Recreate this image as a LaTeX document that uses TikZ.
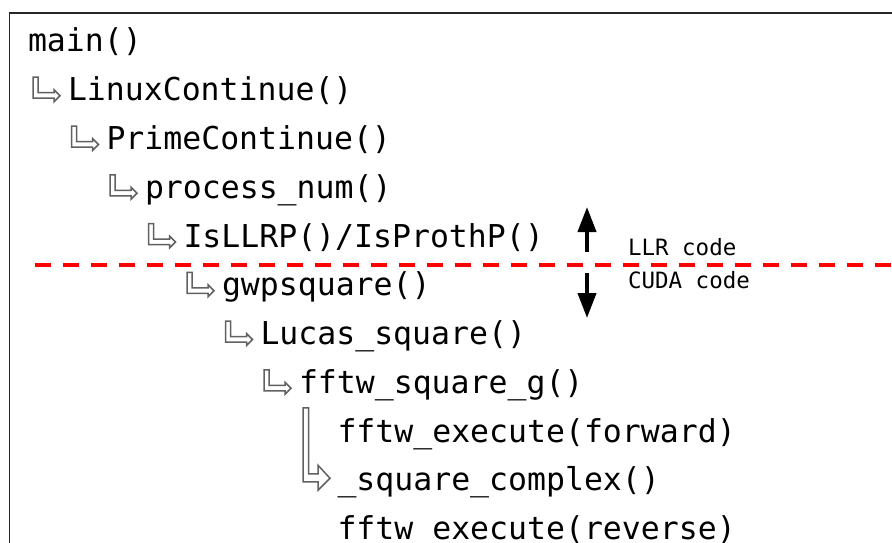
\documentclass[tikz,border=0pt]{standalone}
\usepackage{fontspec}
\newfontfamily\codefont{DejaVu Sans Mono}
\usetikzlibrary{arrows.meta}
\tikzset{
  codeline/.style={anchor=base west, inner sep=0pt, outer sep=0pt, font=\codefont\fontsize{31.5}{36}\selectfont},
  codelabel/.style={anchor=base west, inner sep=0pt, outer sep=0pt, font=\codefont\fontsize{22.5}{26}\selectfont},
  callarrow/.style={draw=black!62, line width=1.5pt, fill=white, line join=miter},
  bigarrow/.style={-{Triangle[length=25pt,width=18pt]}, line width=4pt, black},
  divider/.style={draw=red, line width=4pt, dash pattern=on 16pt off 12pt},
  frameline/.style={draw=black!85, line width=1.4pt}
}
\newcommand{\smallcall}[1]{%
  \draw[callarrow, shift={(#1.base west)}]
    (-35,-23.5) -- (-35,-2.5) -- (-14,-2.5) -- (-14,1) -- (-8,-5) -- (-14,-11)
    -- (-14,-8) -- (-30,-8) -- (-30,-23.5) -- cycle;}
\begin{document}
\begin{tikzpicture}[x=1pt,y=-1pt]
\useasboundingbox (0,0) rectangle (892,543);
\draw[frameline] (9.5,13) rectangle (960,620);

\node[codeline] (n0) at (28,52) {main()};
\node[codeline] (n1) at (68,100.75) {LinuxContinue()};
\node[codeline] (n2) at (106.5,149.5) {PrimeContinue()};
\node[codeline] (n3) at (145,198.25) {process\_num()};
\node[codeline] (n4) at (183.5,247) {IsLLRP()/IsProthP()};
\node[codeline] (n5) at (222,295.75) {gwpsquare()};
\node[codeline] (n6) at (260.5,344.5) {Lucas\_square()};
\node[codeline] (n7) at (299,393.25) {fftw\_square\_g()};
\node[codeline] (n8) at (337.5,442) {fftw\_execute(forward)};
\node[codeline] (n9) at (337.5,490.75) {\_square\_complex()};
\node[codeline] (n10) at (337.5,539.5) {fftw\_execute(reverse)};

\foreach \n in {n1,n2,n3,n4,n5,n6,n7} {\smallcall{\n}}

\draw[callarrow, shift={(n9.base west)}]
  (-34.5,-83) -- (-34.5,-9) -- (-19.5,-9) -- (-19.5,-0.5) -- (-7.5,-12.5)
  -- (-19.5,-25.5) -- (-19.5,-17) -- (-29,-17) -- (-29,-83) -- cycle;

\draw[divider] (35,265) -- (900,265);

\coordinate (upS) at (587,252);
\coordinate (upT) at (587,207);
\coordinate (dnS) at (587,273);
\coordinate (dnT) at (587,318);
\draw[bigarrow] (upS) -- (upT);
\draw[bigarrow] (dnS) -- (dnT);

\node[codelabel] (llr) at (628,255) {LLR code};
\node[codelabel] (cuda) at (628,288) {CUDA code};
\end{tikzpicture}
\end{document}
